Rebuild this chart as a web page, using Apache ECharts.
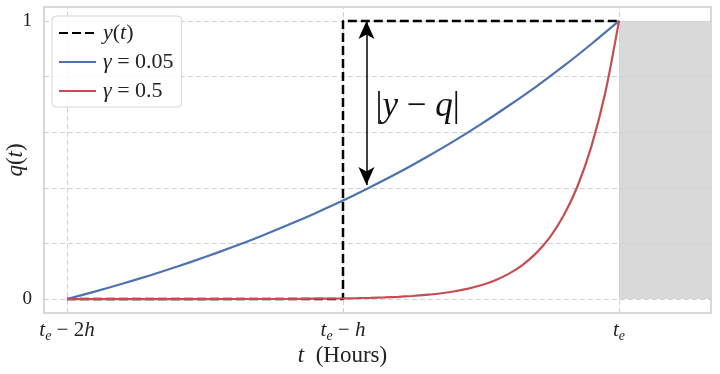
<!DOCTYPE html>
<html><head><meta charset="utf-8">
<script src="https://cdn.jsdelivr.net/npm/echarts@6/dist/echarts.min.js"></script>
<style>html,body{margin:0;padding:0;background:#fff}#c{width:720px;height:374px}</style>
</head><body><div id="c"></div>
<script>
// x in units of h, measured from t_e - 2h
const xTickValues = [0, 1, 2];
const xTickLabels = ['{i|t}{s|e}{n| − 2}{i|h}', '{i|t}{s|e}{n| − }{i|h}', '{i|t}{s|e}'];
const yTickValues = [0, 1];
const yGridValues = [0, 0.2, 0.4, 0.6, 0.8, 1];

const stepX = [0, 1, 1, 2];
const stepY = [0, 0, 1, 1];

const blueX = [0, 0.1, 0.2, 0.3, 0.4, 0.5, 0.6, 0.7, 0.8, 0.9, 1.0, 1.1, 1.2, 1.3, 1.4, 1.5, 1.6, 1.7, 1.8, 1.9, 2.0];
const blueY = [0, 0.027, 0.055, 0.085, 0.117, 0.151, 0.187, 0.225, 0.266, 0.309, 0.354, 0.403, 0.454, 0.509, 0.567, 0.629, 0.695, 0.764, 0.838, 0.917, 1.0];

const redX = [0, 0.5, 0.8, 0.9, 1.0, 1.05, 1.1, 1.15, 1.2, 1.25, 1.3, 1.35, 1.4, 1.45, 1.5, 1.55, 1.6, 1.65, 1.7, 1.75, 1.8, 1.85, 1.9, 1.95, 2.0];
const redY = [0, 0.0001, 0.0007, 0.0014, 0.0025, 0.0033, 0.0045, 0.0061, 0.0082, 0.0111, 0.015, 0.0202, 0.0273, 0.0369, 0.0498, 0.0672, 0.0907, 0.1225, 0.1653, 0.2231, 0.3012, 0.4066, 0.5488, 0.7408, 1.0];

const shadeX = [2, 2.3333];
const shadeY = [0, 1];
const arrowX = 1.085;
const arrowY = [1.0, 0.41];
const annotX = 1.27, annotY = 0.69;

const legendNames = ['y(t)', 'γ = 0.05', 'γ = 0.5'];
const colors = { step: '#000000', blue: '#4C72B0', red: '#C44E52' };

const SERIF = 'Liberation Serif';
const zip = (a, b) => a.map((v, i) => [v, b[i]]);

const chart = echarts.init(document.getElementById('c'), null, { renderer: 'canvas' });
const gridLineStyle = { color: '#cfcfcf', width: 1, type: [5, 3] };

chart.setOption({
  animation: false,
  backgroundColor: '#ffffff',
  grid: { left: 44, right: 9, top: 7, bottom: 61, show: true, borderColor: '#cccccc', borderWidth: 1.5, backgroundColor: 'transparent', containLabel: false, outerBoundsMode: 'none' },
  xAxis: {
    type: 'value', min: -0.0833, max: 2.3333,
    axisLine: { show: false }, axisTick: { show: false }, splitLine: { show: false },
    axisLabel: {
      customValues: xTickValues,
      margin: 5,
      formatter: v => xTickLabels[xTickValues.indexOf(Math.round(v))] || '',
      rich: {
        i: { fontFamily: SERIF, fontStyle: 'italic', fontSize: 21, color: '#222', lineHeight: 25, verticalAlign: 'middle' },
        n: { fontFamily: SERIF, fontSize: 21, color: '#222', lineHeight: 25, verticalAlign: 'middle' },
        s: { fontFamily: SERIF, fontStyle: 'italic', fontSize: 14, color: '#222', lineHeight: 14, verticalAlign: 'bottom' }
      }
    },
    name: '{i|t}{n|  (Hours)}', nameLocation: 'middle', nameGap: 31, nameMoveOverlap: false,
    nameTextStyle: {
      padding: [0, 70, 0, 0],
      rich: {
        i: { fontFamily: SERIF, fontStyle: 'italic', fontSize: 23, color: '#222' },
        n: { fontFamily: SERIF, fontSize: 23, color: '#222' }
      }
    }
  },
  yAxis: {
    type: 'value', min: -0.05, max: 1.05,
    axisLine: { show: false }, axisTick: { show: false }, splitLine: { show: false },
    axisLabel: { customValues: yTickValues, margin: 12, fontFamily: SERIF, fontSize: 19, color: '#222' },
    name: '{i|q}{n|(}{i|t}{n|)}', nameLocation: 'middle', nameGap: 17, nameRotate: 90, nameMoveOverlap: false,
    nameTextStyle: {
      rich: {
        i: { fontFamily: SERIF, fontStyle: 'italic', fontSize: 23, color: '#222' },
        n: { fontFamily: SERIF, fontSize: 23, color: '#222' }
      }
    }
  },
  legend: {
    data: legendNames,
    left: 52, top: 16, orient: 'vertical',
    padding: [6, 8, 5, 6], itemGap: 7, itemWidth: 37, itemHeight: 14,
    itemStyle: { opacity: 0 },
    backgroundColor: 'rgba(255,255,255,0.85)', borderColor: '#d6d6d6', borderWidth: 1, borderRadius: 4,
    formatter: name => {
      if (name === 'y(t)') return '{i|y}{n|(}{i|t}{n|)}';
      const parts = name.split(' = ');
      return '{i|γ}{n| = ' + parts[1] + '}';
    },
    textStyle: {
      padding: [0, 0, 0, 2],
      rich: {
        i: { fontFamily: SERIF, fontStyle: 'italic', fontSize: 22, color: '#222' },
        n: { fontFamily: SERIF, fontSize: 22, color: '#222' }
      }
    }
  },
  series: [
    {
      name: 'shade', type: 'line', data: [], z: 0, silent: true,
      markArea: {
        silent: true, z: 0,
        itemStyle: { color: '#d9d9d9' },
        data: [[{ coord: [shadeX[0], shadeY[0]] }, { coord: [shadeX[1], shadeY[1]] }]]
      }
    },
    {
      name: 'grid', type: 'line', data: [], z: 1, silent: true,
      markLine: {
        silent: true, z: 1, symbol: ['none', 'none'], label: { show: false },
        lineStyle: gridLineStyle, emphasis: { disabled: true },
        data: xTickValues.map(v => ({ xAxis: v })).concat(yGridValues.map(v => ({ yAxis: v })))
      }
    },
    {
      name: legendNames[0], type: 'line', data: zip(stepX, stepY), z: 3,
      symbol: 'none', color: colors.step,
      lineStyle: { color: colors.step, width: 2.5, type: [9, 4] }
    },
    {
      name: legendNames[1], type: 'line', data: zip(blueX, blueY), z: 4, smooth: 0.3,
      symbol: 'none', color: colors.blue,
      lineStyle: { color: colors.blue, width: 2.2 }
    },
    {
      name: legendNames[2], type: 'line', data: zip(redX, redY), z: 5, smooth: 0.3,
      symbol: 'none', color: colors.red,
      lineStyle: { color: colors.red, width: 2.2 }
    },
    {
      name: 'annot', type: 'line', data: [], z: 6, silent: true,
      markLine: {
        silent: true, z: 6, symbol: ['arrow', 'arrow'], symbolSize: [12, 18], label: { show: false },
        lineStyle: { color: '#000', width: 1.5, type: 'solid' }, emphasis: { disabled: true },
        data: [[{ coord: [arrowX, arrowY[0]] }, { coord: [arrowX, arrowY[1]] }]]
      },
      markPoint: {
        silent: true, symbol: 'circle', symbolSize: 0,
        label: {
          show: true, position: 'inside',
          formatter: '{n||}{i|y}{n| − }{i|q}{n||}',
          rich: {
            i: { fontFamily: SERIF, fontStyle: 'italic', fontSize: 35, color: '#111' },
            n: { fontFamily: SERIF, fontSize: 35, color: '#111' }
          }
        },
        data: [{ coord: [annotX, annotY] }]
      }
    }
  ]
});
</script></body></html>
